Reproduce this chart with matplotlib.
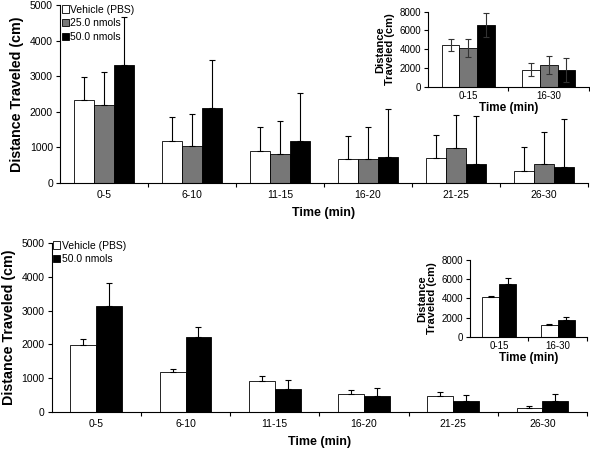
import matplotlib
matplotlib.use("Agg")
import matplotlib.pyplot as plt
import numpy as np
from matplotlib.patches import Patch

plt.rcParams['font.family'] = ['Liberation Sans', 'DejaVu Sans']

# ---- data ----
categories = ['0-5', '6-10', '11-15', '16-20', '21-25', '26-30']
inset_categories = ['0-15', '16-30']
labels3 = ['Vehicle (PBS)', '25.0 nmols', '50.0 nmols']
labels2 = ['Vehicle (PBS)', '50.0 nmols']

top_vehicle = [2320, 1190, 900, 675, 700, 340]
top_vehicle_err = [655, 670, 666, 655, 660, 670]
top_25 = [2205, 1050, 825, 670, 990, 525]
top_25_err = [922, 902, 921, 910, 910, 915]
top_50 = [3324, 2113, 1172, 730, 540, 450]
top_50_err = [1352, 1332, 1352, 1350, 1330, 1350]

top_in_vehicle = [4450, 1800]
top_in_vehicle_err = [650, 680]
top_in_25 = [4100, 2300]
top_in_25_err = [950, 930]
top_in_50 = [6600, 1800]
top_in_50_err = [1300, 1280]

bot_vehicle = [1980, 1190, 910, 540, 480, 120]
bot_vehicle_err = [180, 70, 150, 100, 100, 50]
bot_50 = [3150, 2220, 660, 460, 320, 330]
bot_50_err = [670, 300, 280, 230, 190, 210]

bot_in_vehicle = [4100, 1180]
bot_in_vehicle_err = [180, 100]
bot_in_50 = [5480, 1740]
bot_in_50_err = [640, 280]

colors3 = ['white', '#777777', 'black']
colors2 = ['white', 'black']

fig = plt.figure(figsize=(5.9, 4.5), dpi=100)


def style_axes(ax, ncat, ymax, ystep, fs):
    ax.spines['top'].set_visible(False)
    ax.spines['right'].set_visible(False)
    for s in ('left', 'bottom'):
        ax.spines[s].set_linewidth(0.8)
    ax.set_xlim(-0.5, ncat - 0.5)
    ax.set_ylim(0, ymax)
    ax.set_yticks(np.arange(0, ymax + 1, ystep))
    ax.tick_params(axis='y', direction='out', length=3, width=0.8, labelsize=fs, pad=2)
    ax.set_xticks(np.arange(ncat))
    ax.tick_params(axis='x', which='major', length=0, labelsize=fs, pad=5)
    ax.set_xticks(np.arange(ncat) + 0.5, minor=True)
    ax.tick_params(axis='x', which='minor', direction='out', length=3, width=0.8)


def draw_bars(ax, series, errs, colors, width, cats, two_sided=False, ecolor='black'):
    n = len(series)
    x = np.arange(len(cats))
    for i, (vals, err, c) in enumerate(zip(series, errs, colors)):
        pos = x + (i - (n - 1) / 2) * width
        ax.bar(pos, vals, width, color=c, edgecolor='black', linewidth=0.6, zorder=2)
        if two_sided:
            yerr = [err, err]
        else:
            yerr = [np.zeros(len(err)), err]
        ax.errorbar(pos, vals, yerr=yerr, fmt='none', ecolor=ecolor,
                    elinewidth=0.8, capsize=2.5, capthick=0.8, zorder=3)
    ax.set_xticklabels(cats)


# ---- top main ----
ax1 = fig.add_axes([0.1017, 0.5933, 0.895, 0.3956])
style_axes(ax1, 6, 5000, 1000, 7.5)
draw_bars(ax1, [top_vehicle, top_25, top_50], [top_vehicle_err, top_25_err, top_50_err],
          colors3, 0.225, categories)
ax1.set_ylabel('Distance Traveled (cm)', fontsize=10.3, fontweight='bold', labelpad=4)
ax1.set_xlabel('Time (min)', fontsize=9, fontweight='bold', labelpad=5)
handles = [Patch(facecolor=c, edgecolor='black', linewidth=0.6) for c in colors3]
ax1.legend(handles, labels3, loc='upper left', bbox_to_anchor=(-0.005, 1.025), frameon=False,
           fontsize=7.5, handlelength=0.7, handleheight=0.7, handletextpad=0.15,
           labelspacing=0.35, borderaxespad=0)

# ---- top inset ----
ax2 = fig.add_axes([0.7254, 0.8073, 0.2729, 0.1667])
style_axes(ax2, 2, 8000, 2000, 7)
draw_bars(ax2, [top_in_vehicle, top_in_25, top_in_50],
          [top_in_vehicle_err, top_in_25_err, top_in_50_err],
          colors3, 0.22, inset_categories, two_sided=True, ecolor='#333333')
ax2.set_ylabel('Distance\nTraveled (cm)', fontsize=8, fontweight='bold', labelpad=3,
               linespacing=0.95)
ax2.set_xlabel('Time (min)', fontsize=8.5, fontweight='bold', labelpad=1)
ax2.tick_params(axis='x', which='major', pad=3)

# ---- bottom main ----
ax3 = fig.add_axes([0.0876, 0.0851, 0.9073, 0.3742])
style_axes(ax3, 6, 5000, 1000, 7.5)
draw_bars(ax3, [bot_vehicle, bot_50], [bot_vehicle_err, bot_50_err],
          colors2, 0.29, categories)
ax3.set_ylabel('Distance Traveled (cm)', fontsize=10.3, fontweight='bold', labelpad=4)
ax3.set_xlabel('Time (min)', fontsize=9, fontweight='bold', labelpad=5)
handles2 = [Patch(facecolor=c, edgecolor='black', linewidth=0.6) for c in colors2]
ax3.legend(handles2, labels2, loc='upper left', bbox_to_anchor=(-0.005, 1.04), frameon=False,
           fontsize=7.5, handlelength=0.7, handleheight=0.7, handletextpad=0.15,
           labelspacing=0.35, borderaxespad=0)

# ---- bottom inset ----
ax4 = fig.add_axes([0.7966, 0.2518, 0.1983, 0.1704])
style_axes(ax4, 2, 8000, 2000, 7)
draw_bars(ax4, [bot_in_vehicle, bot_in_50], [bot_in_vehicle_err, bot_in_50_err],
          colors2, 0.29, inset_categories)
ax4.set_ylabel('Distance\nTraveled (cm)', fontsize=8, fontweight='bold', labelpad=3,
               linespacing=0.95)
ax4.set_xlabel('Time (min)', fontsize=8.5, fontweight='bold', labelpad=1)
ax4.tick_params(axis='x', which='major', pad=3)

fig.savefig('out.png', dpi=100)
